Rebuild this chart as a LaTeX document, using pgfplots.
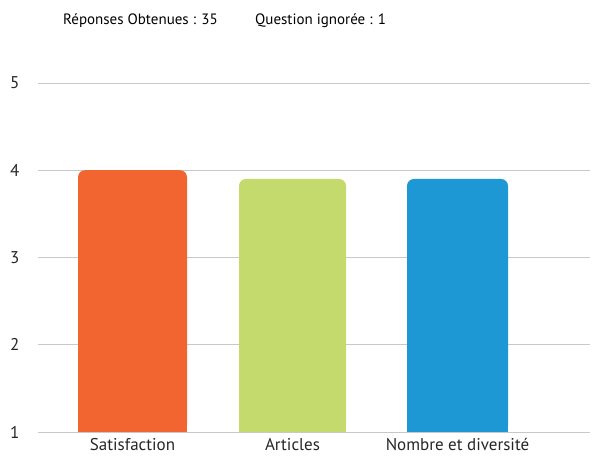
\documentclass[border=0pt]{standalone}
\usepackage{pgfplots}
\pgfplotsset{compat=1.18}
\usepackage{fontspec}
\setmainfont{PT Sans}
\definecolor{cOrange}{HTML}{F26531}
\definecolor{cGreen}{HTML}{C5DA6C}
\definecolor{cBlue}{HTML}{1E98D5}
\definecolor{cGrid}{HTML}{C8C8C8}
\begin{document}
\begin{tikzpicture}
\useasboundingbox (-38pt,-25pt) rectangle (554pt,432pt);
\begin{axis}[
  at={(0pt,0pt)}, anchor=origin,
  scale only axis,
  width=552pt, height=349pt,
  xmin=0.38, xmax=5.90,
  ymin=1, ymax=5,
  axis line style={draw=none},
  ytick={1,2,3,4,5},
  ymajorgrids,
  grid style={cGrid, line width=0.8pt},
  major tick length=0pt,
  xtick={1.325,2.925,4.575},
  xticklabels={Satisfaction,Articles,Nombre et diversité},
  xticklabel style={font=\fontsize{17}{19}\selectfont, text=black!85, yshift=-3pt},
  yticklabel style={font=\fontsize{17}{19}\selectfont, text=black!85, xshift=-15pt},
  /pgf/number format/assume math mode=true,
  ybar, bar shift=0pt,
  bar width=1.07,
  clip=true,
]
\addplot[fill=cOrange, draw=none, rounded corners=7pt, bar width=1.09] coordinates {(1.325,4.0)};
\addplot[fill=cOrange, draw=none, bar width=1.09] coordinates {(1.325,1.3)};
\addplot[fill=cGreen, draw=none, rounded corners=7pt, bar width=1.07] coordinates {(2.925,3.9)};
\addplot[fill=cGreen, draw=none, bar width=1.07] coordinates {(2.925,1.3)};
\addplot[fill=cBlue, draw=none, rounded corners=7pt, bar width=1.01] coordinates {(4.575,3.9)};
\addplot[fill=cBlue, draw=none, bar width=1.01] coordinates {(4.575,1.3)};
\end{axis}
\node[anchor=base west, font=\fontsize{15}{17}\selectfont, inner sep=0pt] at (25pt,407pt) {Réponses Obtenues : 35};
\node[anchor=base west, font=\fontsize{15}{17}\selectfont, inner sep=0pt] at (217pt,407pt) {Question ignorée : 1};
\end{tikzpicture}
\end{document}
